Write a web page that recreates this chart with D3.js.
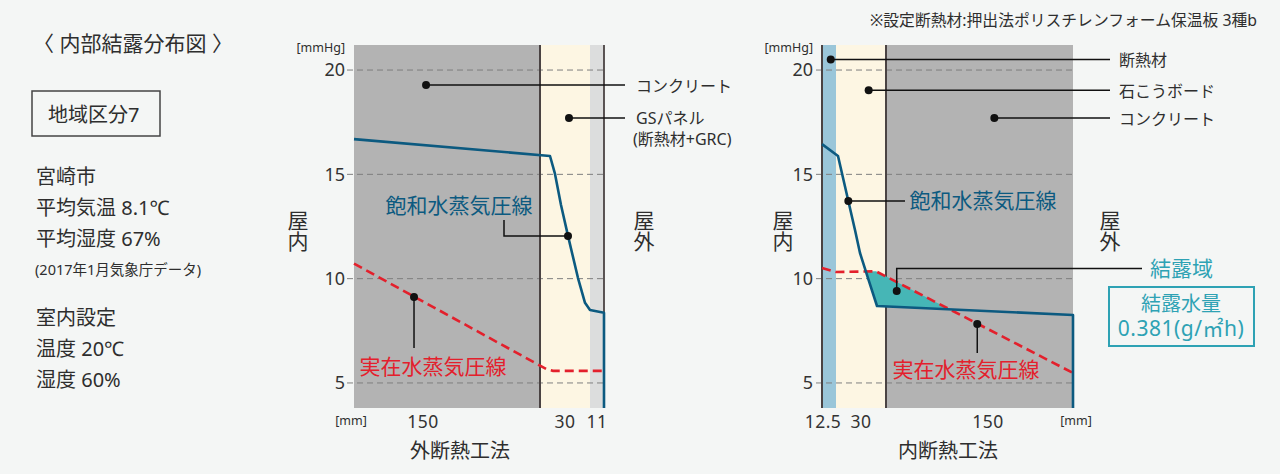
<!DOCTYPE html>
<html lang="ja">
<head>
<meta charset="utf-8">
<script src="https://cdn.jsdelivr.net/npm/d3@7/dist/d3.min.js"></script>
<style>
  html, body { margin: 0; padding: 0; background: #f4f6f5; }
  svg { display: block; font-family: "Noto Sans", "Noto Sans CJK JP", sans-serif; }
</style>
</head>
<body>
<svg id="chart" width="1280" height="474"></svg>
<script>
// ---------------- DATA ----------------
const yTicks = [5, 10, 15, 20];
const yDomain = [3.8, 21.2];                 // mmHg

// 外断熱工法 (left)
const leftLayerNames = ["コンクリート", "GSパネル", "GRC"];
const leftLayerThickness = [150, 30, 11];   // mm
const leftTickLabels = ["150", "30", "11"];
const leftTickAt = [55.6, 165, 185.5];       // mm position of tick label
// saturated vapour pressure [mm, mmHg]
const leftSat = [[0, 16.69], [156, 15.88], [159, 15.02], [162.6, 13.53], [166.8, 12.05],
                 [172.8, 10.03], [177, 8.84], [180, 8.5], [191, 8.37], [191, 3.8]];
// actual vapour pressure [mm, mmHg]
const leftAct = [[0, 10.72], [150, 5.83], [154.2, 5.65], [157.8, 5.58], [191, 5.58]];

// 内断熱工法 (right)
const rightLayerNames = ["断熱材", "石こうボード", "コンクリート"];
const rightLayerThickness = [12.5, 30, 150];
const rightTickLabels = ["12.5", "30", "150"];
const rightTickAt = [0.9, 27.5, 124.3];
const rightSat = [[0, 16.45], [13.7, 15.88], [19.9, 13.72], [23.9, 12.33], [26.9, 11.23],
                  [31.7, 10.03], [37.1, 8.69], [192.5, 8.26], [192.5, 3.8]];
const rightAct = [[0, 10.51], [12.5, 10.32], [36.5, 10.35], [192.5, 5.48]];

const condensationAmount = "0.381(g/㎡h)";

// annotation anchor points [mm, mmHg]
const leftConcreteDot = [58.1, 19.28];
const leftPanelDot = [167.4, 17.7];
const leftSatDot = [166.8, 12.05];
const leftActDot = [48.4, 9.12];
const rightInsDot = [7.8, 20.51];
const rightBoardDot = [32.1, 19.03];
const rightConcreteDot = [129.4, 17.7];
const rightSatDot = [19.9, 13.72];
const rightActDot = [115.7, 7.83];
const rightCondDot = [51.1, 9.41];

const infoLines = ["宮崎市", "平均気温 8.1℃", "平均湿度 67%"];
const infoNote = "(2017年1月気象庁データ)";
const indoorLines = ["室内設定", "温度 20℃", "湿度 60%"];

// ---------------- DRAW ----------------
const svg = d3.select("#chart");
const TOP = 45, BOTTOM = 408;
const TXT = "#2e2e2e", BLUE = "#0c5a80", RED = "#e3202c", TEAL = "#2ea2b4";
const DARK = "#4a4343";

const y = d3.scaleLinear().domain(yDomain).range([BOTTOM, TOP]);

function cum(arr) { const o = [0]; arr.forEach(v => o.push(o[o.length - 1] + v)); return o; }

function text(g, x, yy, s, opt = {}) {
  const t = g.append("text").attr("x", x).attr("y", yy)
    .attr("dominant-baseline", "central")
    .attr("text-anchor", opt.anchor || "start")
    .attr("font-size", opt.size || 16)
    .attr("fill", opt.fill || TXT)
    .text(s);
  if (opt.ls) t.attr("letter-spacing", opt.ls);
  return t;
}
function dot(g, x, yy) { g.append("circle").attr("cx", x).attr("cy", yy).attr("r", 4).attr("fill", "#111"); }
function leader(g, pts) {
  g.append("path").attr("d", d3.line()(pts)).attr("fill", "none").attr("stroke", "#111").attr("stroke-width", 1.5);
}

function panel(cfg) {
  const g = svg.append("g");
  const bounds = cum(cfg.thick);
  const x = d3.scaleLinear().domain(bounds).range(cfg.range);
  g.selectAll("rect.layer").data(cfg.thick).join("rect")
    .attr("x", (d, i) => x(bounds[i])).attr("y", TOP)
    .attr("width", (d, i) => x(bounds[i + 1]) - x(bounds[i]))
    .attr("height", BOTTOM - TOP)
    .attr("fill", (d, i) => cfg.colors[i]);
  g.selectAll("line.grid").data(yTicks).join("line")
    .attr("x1", cfg.gridX0).attr("x2", x(bounds[bounds.length - 1]) + cfg.gridExtra)
    .attr("y1", d => y(d)).attr("y2", d => y(d))
    .attr("stroke", "#7f7f7f").attr("stroke-width", 1).attr("stroke-dasharray", "6,4");
  const ax = g.append("g").attr("transform", `translate(${cfg.axisX},0)`)
    .call(d3.axisLeft(y).tickValues(yTicks).tickSize(0).tickPadding(0));
  ax.attr("font-family", null).attr("font-size", null);
  ax.select(".domain").remove();
  ax.selectAll("text").attr("font-size", 18).attr("fill", "#333");
  text(g, cfg.axisX, 47, "[mmHg]", { anchor: "end", size: 12.5 });
  g.selectAll("text.xt").data(cfg.tickLabels).join("text")
    .attr("x", (d, i) => x(cfg.tickAt[i])).attr("y", 421)
    .attr("dominant-baseline", "central").attr("text-anchor", "middle")
    .attr("font-size", 17.5).attr("fill", "#333").attr("letter-spacing", 0.4).text(d => d);
  text(g, cfg.mmX, 420, "[mm]", { anchor: "middle", size: 12.5 });
  text(g, cfg.titleX, 450, cfg.title, { anchor: "middle", size: 20 });
  cfg.separators.forEach(s => {
    g.append("line").attr("x1", x(s.at)).attr("x2", x(s.at)).attr("y1", TOP).attr("y2", BOTTOM)
      .attr("stroke", DARK).attr("stroke-width", s.w);
  });
  return { g, x };
}

const L = panel({
  thick: leftLayerThickness, range: [354, 540, 590, 604],
  colors: ["#b3b3b3", "#fdf6e3", "#dcdddd"],
  gridX0: 347, gridExtra: 1, axisX: 345,
  tickLabels: leftTickLabels, tickAt: leftTickAt, mmX: 351,
  title: "外断熱工法", titleX: 460,
  separators: [{ at: 150, w: 2 }, { at: 191, w: 1.8 }]
});
const R = panel({
  thick: rightLayerThickness, range: [822, 836, 886, 1073],
  colors: ["#9ac6d9", "#fdf6e3", "#b3b3b3"],
  gridX0: 816, gridExtra: 0, axisX: 813,
  tickLabels: rightTickLabels, tickAt: rightTickAt, mmX: 1076,
  title: "内断熱工法", titleX: 948,
  separators: [{ at: 0, w: 2 }, { at: 42.5, w: 2 }]
});

// condensation region (right): where actual > saturated
const satUpper = rightSat.filter(p => p[1] > yDomain[0]);
svg.append("defs").append("clipPath").attr("id", "aboveSat")
  .append("path")
  .attr("d", d3.area().x(p => R.x(p[0])).y0(TOP).y1(p => y(p[1]))(satUpper));
R.g.append("path")
  .attr("clip-path", "url(#aboveSat)")
  .attr("d", d3.area().x(p => R.x(p[0])).y0(BOTTOM).y1(p => y(p[1]))(rightAct))
  .attr("fill", "#46b6b6");

function drawLines(P, sat, act) {
  P.g.append("path").attr("d", d3.line().x(p => P.x(p[0])).y(p => y(p[1]))(act))
    .attr("fill", "none").attr("stroke", RED).attr("stroke-width", 2.6).attr("stroke-dasharray", "9,5");
  P.g.append("path").attr("d", d3.line().x(p => P.x(p[0])).y(p => y(p[1]))(sat))
    .attr("fill", "none").attr("stroke", BLUE).attr("stroke-width", 2.6).attr("stroke-linejoin", "round");
}
drawLines(L, leftSat, leftAct);
drawLines(R, rightSat, rightAct);

function vtext(g, cx, s) {
  g.append("text").attr("x", cx).attr("y", 209.5)
    .attr("writing-mode", "vertical-rl")
    .style("writing-mode", "vertical-rl")
    .attr("text-anchor", "start")
    .attr("font-size", 21).attr("fill", TXT)
    .attr("font-family", "Noto Sans CJK JP")
    .text(s);
}

// ---- left annotations
const la = svg.append("g");
let p;
p = [L.x(leftConcreteDot[0]), y(leftConcreteDot[1])];
leader(la, [p, [625, p[1]]]); dot(la, ...p);
text(la, 636, p[1] + 1, leftLayerNames[0], { size: 16 });
p = [L.x(leftPanelDot[0]), y(leftPanelDot[1])];
leader(la, [p, [625, p[1]]]); dot(la, ...p);
text(la, 636, p[1], leftLayerNames[1], { size: 16 });
text(la, 633, p[1] + 21, "(断熱材+GRC)", { size: 16 });
p = [L.x(leftSatDot[0]), y(leftSatDot[1])];
leader(la, [p, [504, p[1]], [504, 220]]); dot(la, ...p);
text(la, 459, 205, "飽和水蒸気圧線", { anchor: "middle", size: 21, fill: BLUE });
p = [L.x(leftActDot[0]), y(leftActDot[1])];
leader(la, [p, [p[0], 348]]); dot(la, ...p);
text(la, 433, 366, "実在水蒸気圧線", { anchor: "middle", size: 21, fill: RED });
vtext(la, 298, "屋内");
vtext(la, 644, "屋外");

// ---- right annotations
const ra = svg.append("g");
[[rightInsDot, 0], [rightBoardDot, 1], [rightConcreteDot, 2]].forEach(([d, i]) => {
  const q = [R.x(d[0]), y(d[1])];
  leader(ra, [q, [1110, q[1]]]); dot(ra, ...q);
  text(ra, 1119, q[1] + 1, rightLayerNames[i], { size: 16 });
});
p = [R.x(rightSatDot[0]), y(rightSatDot[1])];
leader(ra, [p, [905, p[1]]]); dot(ra, ...p);
text(ra, 983, 200, "飽和水蒸気圧線", { anchor: "middle", size: 21, fill: BLUE });
p = [R.x(rightActDot[0]), y(rightActDot[1])];
leader(ra, [p, [p[0], 353]]); dot(ra, ...p);
text(ra, 966, 369, "実在水蒸気圧線", { anchor: "middle", size: 21, fill: RED });
p = [R.x(rightCondDot[0]), y(rightCondDot[1])];
leader(ra, [p, [p[0], 268.5], [1142, 268.5]]); dot(ra, ...p);
text(ra, 1150, 268, "結露域", { size: 21, fill: TEAL });
ra.append("rect").attr("x", 1109).attr("y", 287).attr("width", 145).attr("height", 59)
  .attr("fill", "none").attr("stroke", TEAL).attr("stroke-width", 2);
text(ra, 1181, 303, "結露水量", { anchor: "middle", size: 20, fill: TEAL });
text(ra, 1181, 328, condensationAmount, { anchor: "middle", size: 21, fill: TEAL, ls: 0.5 });
vtext(ra, 783, "屋内");
vtext(ra, 1110, "屋外");

text(svg, 1257, 20, "※設定断熱材:押出法ポリスチレンフォーム保温板 3種b", { anchor: "end", size: 15.8 });

// ---- left info block
const info = svg.append("g");
text(info, 33, 43, "〈 内部結露分布図 〉", { size: 21 });
info.append("rect").attr("x", 32).attr("y", 91).attr("width", 128).attr("height", 45)
  .attr("fill", "none").attr("stroke", "#444").attr("stroke-width", 1.5);
text(info, 48, 114, "地域区分7", { size: 20 });
infoLines.forEach((s, i) => text(info, 36, 176 + i * 31, s, { size: 20 }));
text(info, 35, 269, infoNote, { size: 14.5 });
indoorLines.forEach((s, i) => text(info, 36, 317 + i * 31, s, { size: 20 }));
</script>
</body>
</html>
